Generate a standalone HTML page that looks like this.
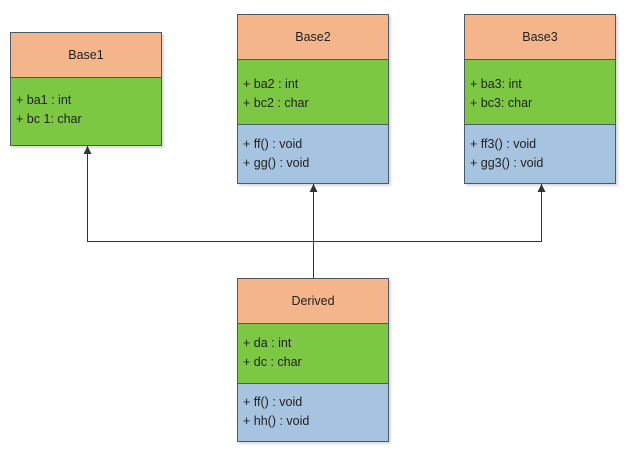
<!DOCTYPE html>
<html><head><style>
body{margin:0;width:626px;height:456px;background:#fff;position:relative;overflow:hidden;font-family:"Liberation Sans",sans-serif;font-size:12.5px;color:#222}
.b{position:absolute;box-sizing:border-box;border:1px solid #4a5a6a;box-shadow:2px 2px 2px rgba(0,0,0,0.15)}
.h{background:#f4b58b;text-align:center;border-bottom:1px solid #4a5a6a;box-sizing:border-box}
.g{background:#7cc843;border-bottom:1px solid #4a5a6a;box-sizing:border-box;padding:0 0 0 5px;line-height:19px}
.u{background:#a6c3e0;padding-left:5px;line-height:19px;box-sizing:border-box}
</style></head><body>
<svg width="626" height="456" style="position:absolute;left:0;top:0">
<g stroke="#333" stroke-width="1" fill="none">
<path d="M313.5 278V184M87.5 146V241.5H541.5V184"/>
</g>
<g fill="#333">
<path d="M87.5 146l-4 8h8z"/><path d="M313.5 184l-4 8h8z"/><path d="M541.5 184l-4 8h8z"/>
</g>
</svg>
<div class="b" style="left:10px;top:32px;width:152px;height:114px">
<div class="h" style="height:45px;line-height:44px">Base1</div>
<div class="g" style="height:67px;border-bottom:none;padding-top:13px">+ ba1 : int<br>+ bc 1: char</div></div>
<div class="b" style="left:237px;top:14px;width:152px;height:170px">
<div class="h" style="height:45px;line-height:44px">Base2</div>
<div class="g" style="height:65px;padding-top:15px">+ ba2 : int<br>+ bc2 : char</div>
<div class="u" style="height:58px;padding-top:10px">+ ff() : void<br>+ gg() : void</div></div>
<div class="b" style="left:464px;top:14px;width:152px;height:170px">
<div class="h" style="height:45px;line-height:44px">Base3</div>
<div class="g" style="height:65px;padding-top:15px">+ ba3: int<br>+ bc3: char</div>
<div class="u" style="height:58px;padding-top:10px">+ ff3() : void<br>+ gg3() : void</div></div>
<div class="b" style="left:237px;top:278px;width:152px;height:164px">
<div class="h" style="height:45px;line-height:44px">Derived</div>
<div class="g" style="height:60px;padding-top:10px">+ da : int<br>+ dc : char</div>
<div class="u" style="height:57px;padding-top:9px">+ ff() : void<br>+ hh() : void</div></div>
</body></html>
